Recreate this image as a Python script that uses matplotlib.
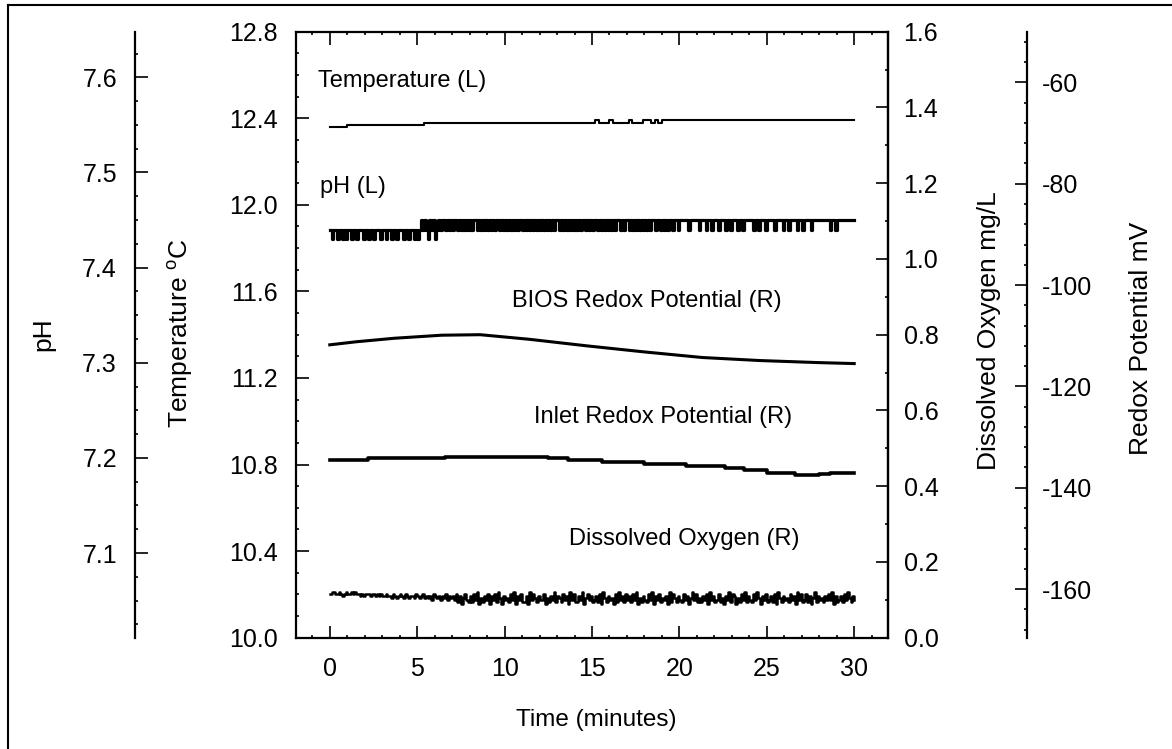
#! /usr/bin/env python3

import numpy as np
import matplotlib
matplotlib.use('Agg')
import matplotlib.pyplot as plt
from matplotlib.ticker import MultipleLocator
from matplotlib.lines import Line2D

plt.rcParams['font.family'] = ['Liberation Sans', 'DejaVu Sans']
plt.rcParams['mathtext.fontset'] = 'custom'
plt.rcParams['mathtext.rm'] = 'Liberation Sans'
plt.rcParams['axes.unicode_minus'] = False

# temperature (left axis), stepwise readings: change time (min) -> deg C
temp_time = [0, 1.0, 5.4, 15.2, 15.4, 16.0, 16.2, 17.1, 17.3, 17.9, 18.4, 18.6, 18.8, 19.0, 30.0]
temp_val = [12.36, 12.37, 12.38, 12.39, 12.38, 12.39, 12.38, 12.39, 12.38, 12.39, 12.38, 12.39, 12.38, 12.39, 12.39]

# pH and DO logged every 0.1 min, one digit per reading
# pH = 7.43 + 0.01 * digit,  DO = 0.08 + 0.005 * digit
sample_step = 0.1
ph_digits = (
    "1011011010" "1101101110" "1101101110" "1101101101" "1101101101" "01"
    "2121021201212"
    "2121212212" "1212121221" "2121212121" "2212121212" "1212212121"
    "2121212121" "2121221212" "1212121212" "2121212212" "1212121212"
    "2121221212" "1212121212" "2122121212" "212"
    "2122222122" "2221222122" "1222122212" "2122212212" "2222122122"
    "2122221222" "2122122221" "2212222122" "2222222212" "2122222222" "222"
)
do_digits = (
    "7887787678" "7787877676" "7776776767" "6"
    "6766576567" "6576566576" "5675656476" "5646574656"
    "4736257436" "3748253647" "2647385264" "5374826473" "3628475364"
    "4725364836" "5374628473" "3648257463" "4637285364" "5273846374"
    "6374825364" "3748264735" "4628375364" "3746258473" "5364728463"
    "4735264837" "6253748364" "3748526473" "4637285364" "5374628473"
    "4736258364" "5364748263" "4637485364"
)

# redox potentials (mV, right-most axis)
bios_time = [0, 1.5, 3.7, 6.4, 8.6, 11.4, 14.7, 18.0, 21.3, 24.6, 27.9, 30.0]
bios_mv = [-111.8, -111.2, -110.5, -109.9, -109.8, -110.7, -112.0, -113.2, -114.3, -114.9, -115.3, -115.5]
inlet_time = [0, 2.2, 6.6, 12.5, 13.6, 15.6, 18.0, 20.4, 22.6, 23.7, 25.0, 26.6, 28.0, 28.6, 30.0]
inlet_mv = [-134.5, -134.2, -133.9, -134.2, -134.5, -134.9, -135.3, -135.8, -136.2, -136.6, -137.0, -137.4, -137.2, -137.0, -137.0]

W, H = 1172, 749


def px(x, y):
    return x / W, 1 - y / H


def style_axis(a, axis, minor, major):
    getattr(a, axis + 'axis').set_major_locator(MultipleLocator(major))
    getattr(a, axis + 'axis').set_minor_locator(MultipleLocator(minor))


def mkplot():
    fig = plt.figure(figsize=(W / 100, H / 100), dpi=100)
    ax = fig.add_axes([295.7 / W, 1 - 637.7 / H, 592.6 / W, 606 / H])

    ph = 7.43 + 0.01 * np.array([int(c) for c in ph_digits])
    do = 0.08 + 0.005 * np.array([int(c) for c in do_digits])
    t_ph = np.arange(len(ph)) * sample_step
    t_do = np.arange(len(do)) * sample_step

    tick_kw = dict(direction='in', labelsize=18, width=1.2)

    # main axes: time / temperature
    ax.plot(temp_time, temp_val, color='black', lw=1.5, drawstyle='steps-post')
    ax.set_xlim(-1.95, 31.95)
    ax.set_ylim(10.0, 12.8)
    style_axis(ax, 'x', 1, 5)
    style_axis(ax, 'y', 0.1, 0.4)
    ax.yaxis.set_major_formatter('{x:.1f}')
    ax.tick_params(axis='x', which='both', top=True, bottom=True, labeltop=False, pad=14, **tick_kw)
    ax.tick_params(axis='y', which='both', left=True, right=False, pad=13, **tick_kw)
    for sp in ax.spines.values():
        sp.set_linewidth(1.6)

    # dissolved oxygen
    ax_do = ax.twinx()
    ax_do.plot(t_do, do, color='black', lw=1.8, drawstyle='steps-post')
    ax_do.set_ylim(0, 1.6)
    style_axis(ax_do, 'y', 0.1, 0.2)
    ax_do.yaxis.set_major_formatter('{x:.1f}')
    ax_do.tick_params(axis='y', which='both', pad=11, **tick_kw)

    # pH
    ax_ph = ax.twinx()
    ax_ph.plot(t_ph, ph, color='black', lw=2.3, drawstyle='steps-post')
    ax_ph.set_ylim(7.011, 7.648)
    style_axis(ax_ph, 'y', 0.025, 0.1)
    ax_ph.yaxis.set_major_formatter('{x:.1f}')
    ax_ph.yaxis.set_ticks_position('left')
    ax_ph.yaxis.set_label_position('left')
    ax_ph.spines['left'].set_position(('axes', (135 - 295.7) / 592.6))
    ax_ph.tick_params(axis='y', which='both', pad=13, **tick_kw)

    # redox
    ax_rx = ax.twinx()
    ax_rx.plot(bios_time, bios_mv, color='black', lw=2.2)
    ax_rx.plot(inlet_time, inlet_mv, color='black', lw=2.6, drawstyle='steps-post')
    ax_rx.set_ylim(-169.6, -50.0)
    style_axis(ax_rx, 'y', 4, 20)
    ax_rx.spines['right'].set_position(('axes', (1026.7 - 295.7) / 592.6))
    ax_rx.tick_params(axis='y', which='both', pad=11, **tick_kw)

    for a, keep in ((ax_do, 'right'), (ax_ph, 'left'), (ax_rx, 'right')):
        for name, sp in a.spines.items():
            sp.set_visible(name == keep)
            sp.set_linewidth(1.6)

    for a in (ax, ax_do, ax_ph, ax_rx):
        a.tick_params(which='major', length=9)
        a.tick_params(which='minor', length=2.5)

    # series annotations
    notes = [
        ("Temperature (L)", 318, 81),
        ("pH (L)", 320, 187.5),
        ("BIOS Redox Potential (R)", 512, 301),
        ("Inlet Redox Potential (R)", 534, 417.5),
        ("Dissolved Oxygen (R)", 569, 539),
    ]
    for s, x, y in notes:
        fig.text(*px(x, y), s, fontsize=17, ha='left', va='center')

    # axis titles
    fig.text(*px(43.5, 334), "pH", fontsize=19, rotation=90, ha='center', va='center')
    fig.text(*px(180, 333), "Temperature $^{\\rm o}$C", fontsize=19, rotation=90, ha='center', va='center')
    fig.text(*px(989, 331), "Dissolved Oxygen mg/L", fontsize=19, rotation=90, ha='center', va='center')
    fig.text(*px(1141, 338), "Redox Potential mV", fontsize=19, rotation=90, ha='center', va='center')
    fig.text(*px(596, 720), "Time (minutes)", fontsize=17.5, ha='center', va='center')

    # frame around the figure
    fig.add_artist(Line2D([8 / W, 8 / W], [0, 1 - 5 / H], transform=fig.transFigure, color='black', lw=1.5))
    fig.add_artist(Line2D([8 / W, 1], [1 - 5 / H, 1 - 5 / H], transform=fig.transFigure, color='black', lw=1.5))

    plt.savefig('out.png', dpi=100)


if __name__ == "__main__":
    mkplot()
